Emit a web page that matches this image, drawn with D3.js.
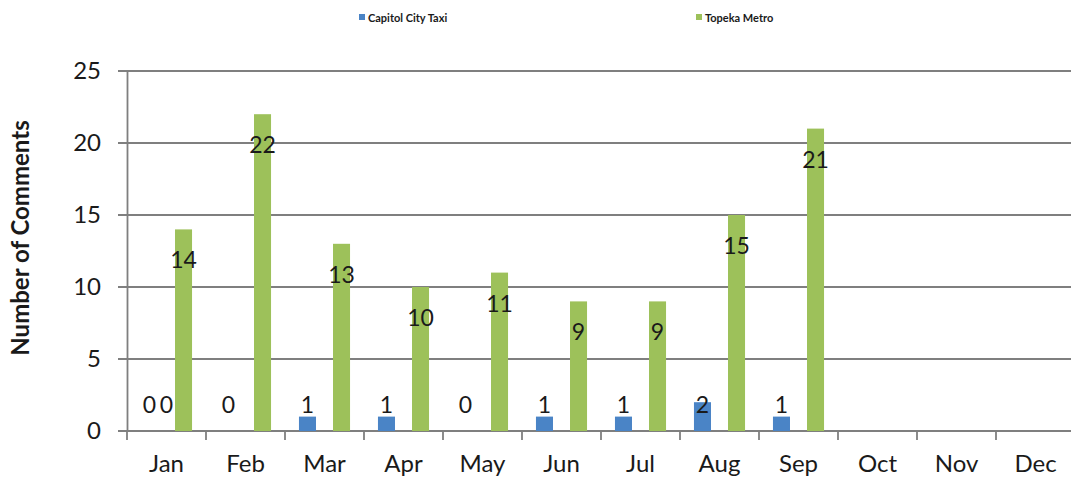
<!DOCTYPE html>
<html>
<head>
<meta charset="utf-8">
<script src="https://cdn.jsdelivr.net/npm/d3@7"></script>
<style>
  html, body { margin: 0; padding: 0; background: #fff; }
  svg { display: block; }
  text { font-family: Lato, "Open Sans", sans-serif; fill: #1a1a1a; }
</style>
</head>
<body>
<svg id="chart" width="1071" height="478"></svg>
<script>
const months = ["Jan","Feb","Mar","Apr","May","Jun","Jul","Aug","Sep","Oct","Nov","Dec"];
const taxi  = [0, 0, 1, 1, 0, 1, 1, 2, 1, null, null, null];
const other = [0, null, null, null, null, null, null, null, null, null, null, null];
const metro = [14, 22, 13, 10, 11, 9, 9, 15, 21, null, null, null];
const yTicks = [0, 5, 10, 15, 20, 25];
const seriesNames = ["Capitol City Taxi", "Other", "Topeka Metro"];
const seriesColors = ["#4a84c6", "#c0504d", "#9dc15a"];
const legendNames = ["Capitol City Taxi", "Topeka Metro"];
const legendColors = ["#4a84c6", "#9dc15a"];

const svg = d3.select("#chart");
const x = d3.scaleBand().domain(months).range([127, 1075]).padding(0);
const sub = d3.scaleBand().domain(seriesNames).range([0, x.bandwidth()]).paddingInner(0).paddingOuter(0.82);
const y = d3.scaleLinear().domain([0, 25]).range([431, 71]);

// gridlines
svg.append("g").selectAll("line").data(yTicks).join("line")
  .attr("x1", 118).attr("x2", 1071)
  .attr("y1", d => y(d)).attr("y2", d => y(d))
  .attr("stroke", "#7f7f7f").attr("stroke-width", 1.8);

// y axis
const yAxis = svg.append("g").attr("transform", "translate(127,0)")
  .call(d3.axisLeft(y).tickValues(yTicks).tickSize(0).tickPadding(26));
yAxis.select(".domain").attr("stroke", "#7f7f7f").attr("stroke-width", 1.8);
yAxis.selectAll("text").style("font-size", "24px").attr("fill", "#1a1a1a");

// x axis ticks
const xAxis = svg.append("g").attr("transform", "translate(0,431)")
  .call(d3.axisBottom(x).tickSize(0).tickPadding(24));
xAxis.select(".domain").remove();
xAxis.selectAll("text").style("font-size", "24px").attr("fill", "#1a1a1a");
svg.append("g").selectAll("line").data(months.concat(["_end"])).join("line")
  .attr("x1", (d, i) => x.range()[0] + i * x.step())
  .attr("x2", (d, i) => x.range()[0] + i * x.step())
  .attr("y1", 431).attr("y2", 440)
  .attr("stroke", "#7f7f7f").attr("stroke-width", 1.8);

// bars
const seriesData = [taxi, other, metro];
seriesData.forEach((vals, si) => {
  const name = seriesNames[si];
  const pts = months.map((m, i) => ({ m, v: vals[i] })).filter(d => d.v !== null);
  svg.append("g").selectAll("rect").data(pts.filter(d => d.v > 0)).join("rect")
    .attr("x", d => x(d.m) + sub(name))
    .attr("width", sub.bandwidth())
    .attr("y", d => y(d.v))
    .attr("height", d => y(0) - y(d.v))
    .attr("fill", seriesColors[si]);
  svg.append("g").selectAll("text").data(pts).join("text")
    .attr("x", d => x(d.m) + sub(name) + sub.bandwidth() / 2)
    .attr("y", d => Math.min(y(d.v) + 30, y(0) - 27))
    .attr("text-anchor", "middle")
    .attr("dominant-baseline", "central")
    .style("font-size", "23px")
    .text(d => d.v);
});

// y axis title
svg.append("text")
  .attr("transform", "translate(19,238) rotate(-90)")
  .attr("text-anchor", "middle")
  .attr("dominant-baseline", "central")
  .style("font-size", "24px").style("font-weight", "bold")
  .text("Number of Comments");

// legend
const legendX = [359, 696];
legendNames.forEach((n, i) => {
  svg.append("rect").attr("x", legendX[i]).attr("y", 14).attr("width", 6).attr("height", 6).attr("fill", legendColors[i]);
  svg.append("text").attr("x", legendX[i] + 9).attr("y", 17)
    .attr("dominant-baseline", "central")
    .style("font-size", "11px").style("font-weight", "bold").attr("fill", "#333")
    .text(n);
});
</script>
</body>
</html>
